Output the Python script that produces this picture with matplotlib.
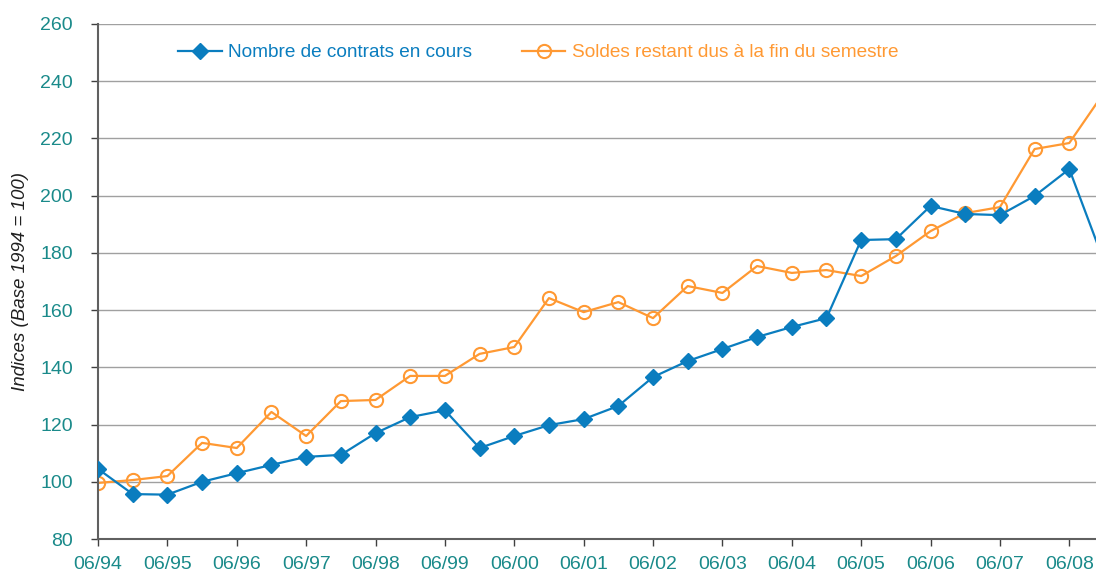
import matplotlib.pyplot as plt

plt.rcParams['font.family'] = ['Liberation Sans', 'DejaVu Sans']

# half-year periods, 06/94 .. 12/08
periods = ['06/94', '12/94', '06/95', '12/95', '06/96', '12/96', '06/97', '12/97',
           '06/98', '12/98', '06/99', '12/99', '06/00', '12/00', '06/01', '12/01',
           '06/02', '12/02', '06/03', '12/03', '06/04', '12/04', '06/05', '12/05',
           '06/06', '12/06', '06/07', '12/07', '06/08', '12/08']

contrats = [104.5, 95.7, 95.5, 100.0, 103.0, 105.9, 108.7, 109.4,
            117.0, 122.6, 125.0, 111.8, 116.0, 119.8, 121.9, 126.5,
            136.6, 142.2, 146.4, 150.6, 154.1, 157.2, 184.5, 184.8,
            196.4, 193.6, 193.2, 199.9, 209.3, 177.0]

soldes = [99.6, 100.6, 102.0, 113.6, 111.8, 124.4, 116.0, 128.2,
          128.6, 137.0, 137.0, 144.7, 147.1, 164.2, 159.3, 162.8,
          157.2, 168.4, 166.0, 175.4, 173.0, 174.0, 171.9, 178.9,
          187.6, 193.9, 196.0, 216.3, 218.4, 236.0]

blue = '#0a7dbf'
orange = '#ff9933'
teal = '#1a8a8a'

x = list(range(len(periods)))

fig = plt.figure(figsize=(10.96, 5.74), dpi=100)
ax = fig.add_axes([98 / 1096, 35 / 574, 998 / 1096, 515 / 574])

ax.plot(x, contrats, color=blue, lw=1.6, marker='D', ms=8,
        mec=blue, mfc=blue, label='Nombre de contrats en cours', zorder=3)
ax.plot(x, soldes, color=orange, lw=1.6, marker='o', ms=9.5, mfc='none',
        mec=orange, mew=1.5, label='Soldes restant dus à la fin du semestre', zorder=2)

ax.set_xlim(0, 28.77)
ax.set_ylim(80, 260)
ax.set_yticks(range(80, 261, 20))
ax.set_xticks(x[::2])
ax.set_xticklabels(periods[::2])

ax.grid(axis='y', color='#a0a0a0', lw=1)
ax.set_axisbelow(True)
for s in ['top', 'right']:
    ax.spines[s].set_visible(False)
for s in ['left', 'bottom']:
    ax.spines[s].set_color('#606060')
    ax.spines[s].set_linewidth(1.5)

ax.tick_params(axis='both', direction='out', length=5, width=1,
               color='#404040', labelcolor=teal, labelsize=14)
ax.tick_params(axis='x', pad=7)
ax.tick_params(axis='y', pad=13)

ax.set_ylabel('Indices (Base 1994 = 100)', fontsize=13.5, style='italic',
              color='#202020', labelpad=8)

leg = ax.legend(loc='center left', bbox_to_anchor=(0.08, 0.944), ncol=2,
                frameon=False, fontsize=13.7, handlelength=2.3,
                handletextpad=0.35, columnspacing=2.6, borderpad=0, borderaxespad=0)
for txt, col in zip(leg.get_texts(), [blue, orange]):
    txt.set_color(col)

fig.savefig('out.png', dpi=100)
